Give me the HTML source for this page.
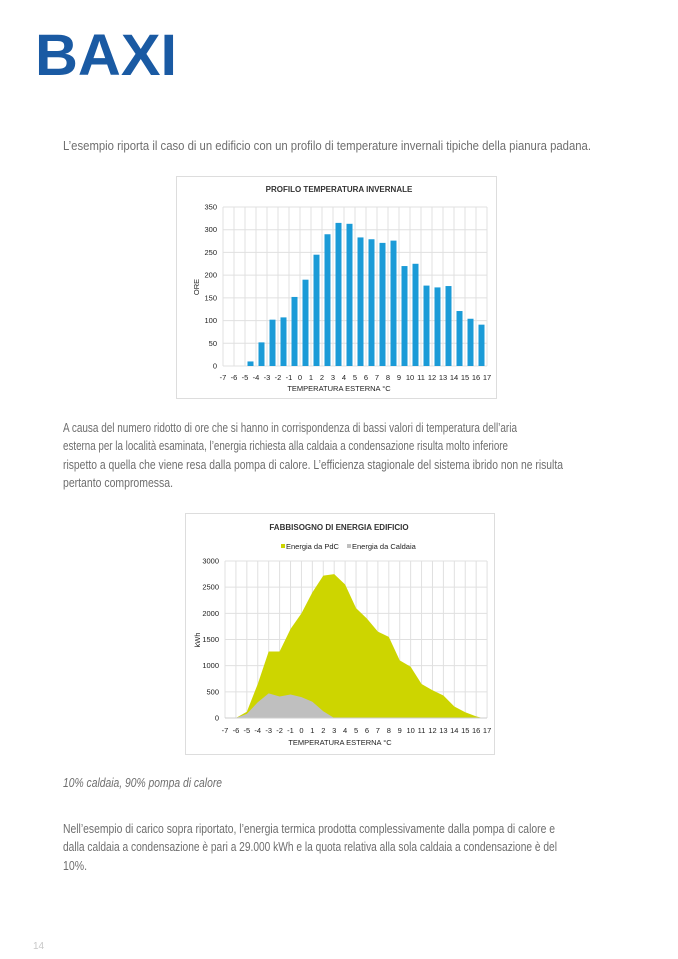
<!DOCTYPE html>
<html><head><meta charset="utf-8"><style>
body{margin:0;background:#fff}
svg{display:block}
text{font-family:"Liberation Sans",sans-serif}
.p{font-size:12.5px;fill:#6e6e6e}
.t{font-size:7.5px;fill:#222}
.h{font-size:8px;font-weight:bold;fill:#333}
</style></head><body>
<svg width="678" height="959" viewBox="0 0 678 959" xmlns="http://www.w3.org/2000/svg">
<text x="35" y="75" font-size="58" font-weight="bold" fill="#1a5aa3" textLength="142" lengthAdjust="spacingAndGlyphs">BAXI</text>
<text class="p" x="63" y="150" textLength="528" lengthAdjust="spacingAndGlyphs">L’esempio riporta il caso di un edificio con un profilo di temperature invernali tipiche della pianura padana.</text>

<rect x="176.5" y="176.5" width="320" height="222" fill="#fff" stroke="#ddd"/>
<text class="h" x="339" y="192" text-anchor="middle">PROFILO TEMPERATURA INVERNALE</text>
<g id="c1"></g>

<text class="p" x="63" y="432" textLength="454" lengthAdjust="spacingAndGlyphs">A causa del numero ridotto di ore che si hanno in corrispondenza di bassi valori di temperatura dell’aria</text>
<text class="p" x="63" y="450" textLength="445" lengthAdjust="spacingAndGlyphs">esterna per la località esaminata, l’energia richiesta alla caldaia a condensazione risulta molto inferiore</text>
<text class="p" x="63" y="469" textLength="500" lengthAdjust="spacingAndGlyphs">rispetto a quella che viene resa dalla pompa di calore. L’efficienza stagionale del sistema ibrido non ne risulta</text>
<text class="p" x="63" y="487" textLength="110" lengthAdjust="spacingAndGlyphs">pertanto compromessa.</text>

<rect x="185.5" y="513.5" width="309" height="241" fill="#fff" stroke="#ddd"/>
<text class="h" x="339" y="530" text-anchor="middle">FABBISOGNO DI ENERGIA EDIFICIO</text>
<rect x="281" y="544" width="4" height="4" fill="#cdd500"/>
<text class="t" x="286" y="549">Energia da PdC</text>
<rect x="347" y="544" width="4" height="4" fill="#bfbfbf"/>
<text class="t" x="352" y="549">Energia da Caldaia</text>
<g id="c2"></g>

<text class="p" x="63" y="787" font-style="italic" textLength="159" lengthAdjust="spacingAndGlyphs">10% caldaia, 90% pompa di calore</text>
<text class="p" x="63" y="833" textLength="492" lengthAdjust="spacingAndGlyphs">Nell’esempio di carico sopra riportato, l’energia termica prodotta complessivamente dalla pompa di calore e</text>
<text class="p" x="63" y="851" textLength="494" lengthAdjust="spacingAndGlyphs">dalla caldaia a condensazione è pari a 29.000 kWh e la quota relativa alla sola caldaia a condensazione è del</text>
<text class="p" x="63" y="870" textLength="24" lengthAdjust="spacingAndGlyphs">10%.</text>
<text x="33" y="949" font-size="10" fill="#c8c8c8">14</text>
</svg>
<script>
var NS="http://www.w3.org/2000/svg";
function el(p,t,a,txt){var e=document.createElementNS(NS,t);for(var k in a)e.setAttribute(k,a[k]);if(txt!=null)e.textContent=txt;p.appendChild(e);return e;}
var c1=document.getElementById('c1');
var x1=function(v){return 223+(v+7)*11;}, y1=function(v){return 366-v*0.4543;};
for(var v=0;v<=350;v+=50){el(c1,'line',{x1:223,x2:487,y1:y1(v),y2:y1(v),stroke:'#e0e0e0'});el(c1,'text',{'class':'t',x:217,y:y1(v)+2.5,'text-anchor':'end'},v);}
for(var i=-7;i<=17;i++){el(c1,'line',{x1:x1(i),x2:x1(i),y1:y1(350),y2:366,stroke:'#e0e0e0'});el(c1,'text',{'class':'t',x:x1(i),y:380,'text-anchor':'middle'},i);}
var d1=[10,52,102,107,152,190,245,290,315,313,283,279,271,276,220,225,177,173,176,121,104,91];
d1.forEach(function(v,k){var c=x1(-5+k+0.5);el(c1,'rect',{x:c-3,y:y1(v),width:6,height:366-y1(v),fill:'#1b9bd7'});});
el(c1,'text',{'class':'t',x:339,y:391,'text-anchor':'middle'},'TEMPERATURA ESTERNA °C');
el(c1,'text',{'class':'t',x:0,y:0,'text-anchor':'middle',transform:'translate(199,287) rotate(-90)'},'ORE');
var c2=document.getElementById('c2');
var x2=function(v){return 225+(v+7)*10.92;}, y2=function(v){return 718-v*0.05233;};
for(var v=0;v<=3000;v+=500){el(c2,'line',{x1:225,x2:487,y1:y2(v),y2:y2(v),stroke:'#e0e0e0'});el(c2,'text',{'class':'t',x:219,y:y2(v)+2.5,'text-anchor':'end'},v);}
for(var i=-7;i<=17;i++){el(c2,'line',{x1:x2(i),x2:x2(i),y1:y2(3000),y2:718,stroke:'#e0e0e0'});el(c2,'text',{'class':'t',x:x2(i),y:733,'text-anchor':'middle'},i);}
var g=[[-6,0],[-5,120],[-4,650],[-3,1270],[-2,1270],[-1,1700],[0,2000],[1,2400],[2,2720],[3,2750],[4,2550],[5,2100],[6,1900],[7,1650],[8,1550],[9,1100],[10,980],[11,650],[12,530],[13,430],[14,220],[15,110],[16,30],[16.6,0]];
el(c2,'polygon',{points:g.map(function(p){return x2(p[0])+','+y2(p[1]);}).join(' '),fill:'#cdd500'});
var gr=[[-6,0],[-5,80],[-4,300],[-3,470],[-2,410],[-1,450],[0,400],[1,310],[2,130],[3,0]];
el(c2,'polygon',{points:gr.map(function(p){return x2(p[0])+','+y2(p[1]);}).join(' '),fill:'#bfbfbf'});
el(c2,'line',{x1:225,x2:487,y1:718,y2:718,stroke:'#ccc'});
el(c2,'text',{'class':'t',x:340,y:745,'text-anchor':'middle'},'TEMPERATURA ESTERNA °C');
el(c2,'text',{'class':'t',x:0,y:0,'text-anchor':'middle',transform:'translate(200,640) rotate(-90)'},'kWh');
</script>
</body></html>
